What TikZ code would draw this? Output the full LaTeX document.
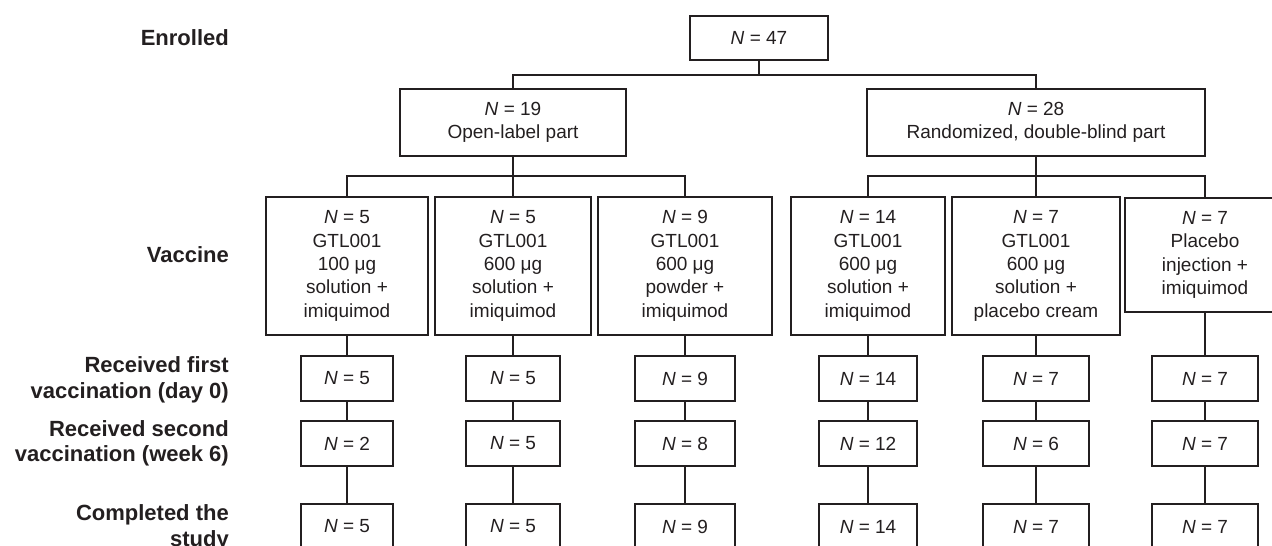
\documentclass[tikz,border=0pt]{standalone}
\usepackage{fontspec}
\setmainfont{Liberation Sans}
\usepackage{tikz}
\definecolor{inkline}{RGB}{35, 31, 32}
\newcommand\boxfont{\fontsize{19}{23.4}\selectfont}
\newcommand\rowfont{\fontsize{22}{25.5}\selectfont\bfseries}

\tikzset{
    box/.style     = {draw=inkline, line width=1.8pt, inner sep=0pt, align=center,
                      text=inkline, font=\boxfont},
    countbox/.style= {box, minimum height=45pt},
    rowlabel/.style= {anchor=east, align=right, inner sep=0pt, text=inkline, font=\rowfont},
    link/.style    = {draw=inkline, line width=1.8pt}
}

\begin{document}
\begin{tikzpicture}[x=1pt, y=-1pt]
            \useasboundingbox (0,0) rectangle (1272,546);
            \clip             (0,0) rectangle (1272,546);

            % row labels
            \node[rowlabel] (lenrol)  at (229, 38.0) {Enrolled};
            \node[rowlabel] (lvac)    at (229,255.0) {Vaccine};
            \node[rowlabel] (lfirst)  at (229,380.0) {Received first\\vaccination (day 0)};
            \node[rowlabel] (lsecond) at (229,443.5) {Received second\\vaccination (week 6)};
            \node[rowlabel] (ldone)   at (229,528.0) {Completed the\\study};

            % enrolment and the two parts
            \node[box, minimum width=138pt, minimum height=44pt] (enrol) at ( 759, 38.0) {\textit{N} = 47};
            \node[box, minimum width=226pt, minimum height=67pt] (open)  at ( 513,122.5) {\textit{N} = 19\\Open-label part};
            \node[box, minimum width=338pt, minimum height=67pt] (rand)  at (1036,122.5) {\textit{N} = 28\\Randomized, double-blind part};

            % vaccine groups
            \node[box, anchor=north, minimum width=162pt, minimum height=138pt] (vac1) at ( 347,196) {\textit{N} = 5\\GTL001\\100 μg\\solution +\\imiquimod};
            \node[box, anchor=north, minimum width=156pt, minimum height=138pt] (vac2) at ( 513,196) {\textit{N} = 5\\GTL001\\600 μg\\solution +\\imiquimod};
            \node[box, anchor=north, minimum width=174pt, minimum height=138pt] (vac3) at ( 685,196) {\textit{N} = 9\\GTL001\\600 μg\\powder +\\imiquimod};
            \node[box, anchor=north, minimum width=154pt, minimum height=138pt] (vac4) at ( 868,196) {\textit{N} = 14\\GTL001\\600 μg\\solution +\\imiquimod};
            \node[box, anchor=north, minimum width=168pt, minimum height=138pt] (vac5) at (1036,196) {\textit{N} = 7\\GTL001\\600 μg\\solution +\\placebo cream};
            \node[box, anchor=north, minimum width=160pt, minimum height=114pt] (vac6) at (1205,197) {\textit{N} = 7\\Placebo\\injection +\\imiquimod};

            % branching
            \coordinate (split0) at ( 759, 75);
            \coordinate (splitA) at ( 513,176);
            \coordinate (splitB) at (1036,176);
            \draw[link] (enrol) -- (split0);
            \draw[link] (open.north) |- (split0) -| (rand.north);
            \draw[link] (open) -- (splitA);
            \draw[link] (vac1.north) |- (splitA) -| (vac3.north);
            \draw[link] (vac2) -- (splitA);
            \draw[link] (rand) -- (splitB);
            \draw[link] (vac4.north) |- (splitB) -| (vac6.north);
            \draw[link] (vac5) -- (splitB);

            % counts per group
            \foreach \col/\cx/\sw/\na/\nb/\nc in {1/347/92/5/2/5, 2/513/94/5/5/5, 3/685/100/9/8/9,
                                                   4/868/98/14/12/14, 5/1036/106/7/6/7, 6/1205/106/7/7/7} {
                \node[countbox, minimum width=\sw pt] (first\col)  at (\cx,378.5) {\textit{N} = \na};
                \node[countbox, minimum width=\sw pt] (second\col) at (\cx,443.5) {\textit{N} = \nb};
                \node[countbox, minimum width=\sw pt] (third\col)  at (\cx,526.5) {\textit{N} = \nc};
                \draw[link] (vac\col) -- (first\col) -- (second\col) -- (third\col);
            }
        \end{tikzpicture}
\end{document}
